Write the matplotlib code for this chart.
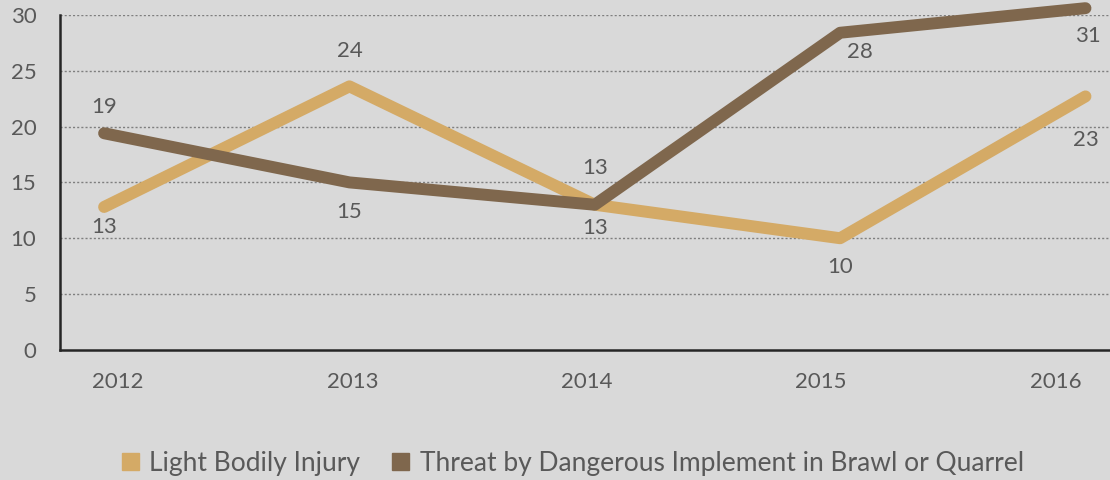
import matplotlib.pyplot as plt
import matplotlib.transforms as mtransforms
from matplotlib.patches import Patch

years = ["2012", "2013", "2014", "2015", "2016"]
light_injury = [12.8, 23.6, 13.0, 10.0, 22.7]
threat_implement = [19.4, 15.0, 13.0, 28.4, 30.6]
series_names = ["Light Bodily Injury", "Threat by Dangerous Implement in Brawl or Quarrel"]

# label offsets in pixels (dx, dy) for each point
light_offsets = [(0, -20), (0, 35), (0, -23), (0, -29), (0, -44)]
threat_offsets = [(0, 26), (0, -30), (0, 37), (20, -19), (2, -28)]

bg = "#d9d9d9"
tan = "#d4aa66"
brown = "#7f674d"
text_col = "#595959"

plt.rcParams["font.family"] = ["Lato", "DejaVu Sans"]

fig = plt.figure(figsize=(11.1, 4.8), dpi=100, facecolor=bg)
ax = fig.add_axes([0.054, 0.271, 0.946, 0.698])
ax.set_facecolor(bg)

x = list(range(len(years)))
ax.plot(x, light_injury, color=tan, lw=8.6, solid_capstyle="round",
        solid_joinstyle="round", zorder=3, clip_on=False)
ax.plot(x, threat_implement, color=brown, lw=8.6, solid_capstyle="round",
        solid_joinstyle="round", zorder=3, clip_on=False)

for xi, v, off in zip(x, light_injury, light_offsets):
    ax.annotate(f"{v:.0f}", (xi, v), xytext=off, textcoords="offset pixels",
                ha="center", va="center", fontsize=16, color=text_col,
                annotation_clip=False)
for xi, v, off in zip(x, threat_implement, threat_offsets):
    ax.annotate(f"{v:.0f}", (xi, v), xytext=off, textcoords="offset pixels",
                ha="center", va="center", fontsize=16, color=text_col,
                annotation_clip=False)

ax.set_xlim(-0.18, 4.1)
ax.set_ylim(0, 30)
ax.set_yticks(range(0, 31, 5))
ax.set_xticks(x)
ax.set_xticklabels(years)
ax.tick_params(length=0, labelsize=16, labelcolor=text_col)
ax.tick_params(axis="x", pad=16)
ax.tick_params(axis="y", pad=17)

# category labels sit slightly off the data positions in the original
for i, lbl in enumerate(ax.get_xticklabels()):
    dx = (14 - 11 * i) / 100
    lbl.set_transform(lbl.get_transform() +
                      mtransforms.ScaledTranslation(dx, 0, fig.dpi_scale_trans))

for y in range(5, 31, 5):
    ax.axhline(y, color="#7f7f7f", lw=1.0, ls=(0, (1.5, 1.5)), zorder=1)

for s in ["top", "right"]:
    ax.spines[s].set_visible(False)
for s in ["left", "bottom"]:
    ax.spines[s].set_color("#262626")
    ax.spines[s].set_linewidth(1.8)

handles = [Patch(color=tan), Patch(color=brown)]
fig.legend(handles, series_names, loc="center", bbox_to_anchor=(0.516, 0.035),
           ncol=2, frameon=False, fontsize=19, labelcolor=text_col,
           handlelength=0.65, handleheight=0.65, handletextpad=0.4,
           columnspacing=1.2)

fig.savefig("out.png", dpi=100, facecolor=bg)
